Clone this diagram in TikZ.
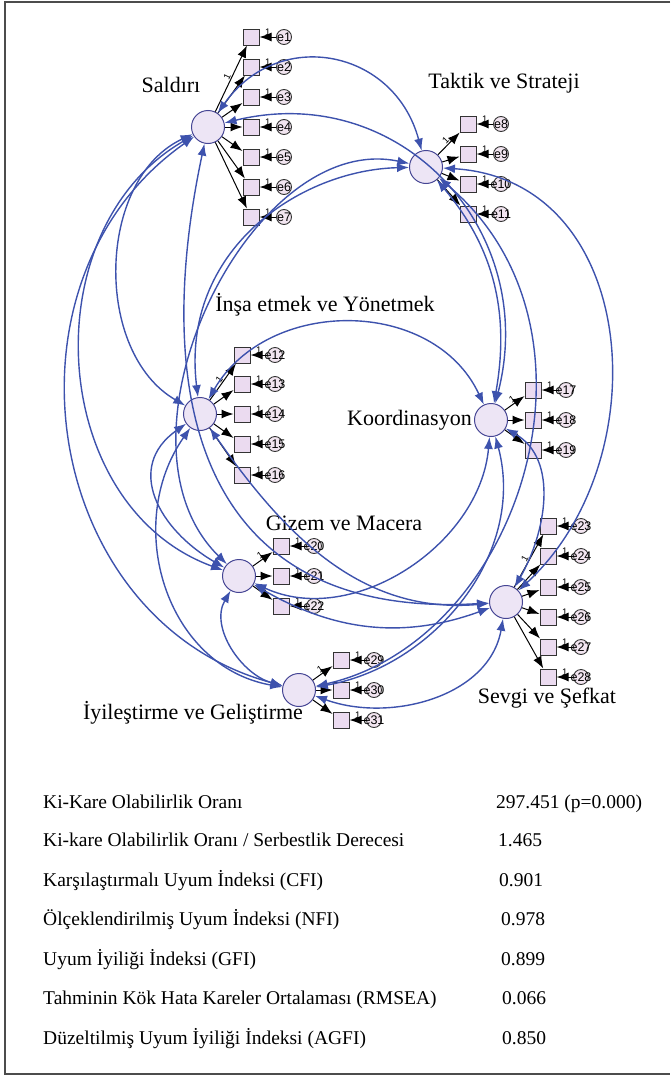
\documentclass[tikz,border=0pt]{standalone}
\usepackage{fontspec}
\setmainfont{Liberation Serif}
\newfontfamily\amosfont{Liberation Sans}
\usetikzlibrary{arrows.meta, positioning}
\definecolor{covblue}{rgb}{0.24,0.32,0.68}
\definecolor{latfill}{rgb}{0.93,0.90,0.96}
\definecolor{latline}{rgb}{0.27,0.27,0.58}
\definecolor{obsfill}{rgb}{0.92,0.86,0.94}
\definecolor{errfill}{rgb}{0.95,0.90,0.94}

\begin{document}
\begin{tikzpicture}[x=1pt,y=1pt,>={Latex[length=12pt,width=9pt]},
  latent/.style={circle, draw=latline, line width=1pt, fill=latfill, minimum size=33pt, inner sep=0pt},
  obsv/.style={rectangle, draw=black!80, line width=1pt, fill=obsfill, minimum size=16pt, inner sep=0pt},
  err/.style={circle, draw=black!80, line width=0.9pt, fill=errfill, minimum size=15pt, inner sep=0pt},
  etext/.style={font=\amosfont\fontsize{12.5}{12.5}\selectfont, inner sep=0pt},
  one/.style={font=\amosfont\fontsize{9.5}{9.5}\selectfont, inner sep=1pt},
  load/.style={->, black, line width=1pt},
  cov/.style={<->, covblue, line width=1.4pt},
  factor/.style={font=\fontsize{22}{24}\selectfont, inner sep=1pt},
  fitrow/.style={font=\fontsize{19.5}{22}\selectfont, anchor=base west, inner sep=0pt}]
  \useasboundingbox (0,0) rectangle (670,-1076);

  % frame
  \draw[line width=1.4pt, black!70] (670,-2) -- (5,-2) -- (5,-1074) -- (670,-1074);

  % latent factors
  \node[latent] (S) at (208,-127) {};
  \node[latent] (T) at (426,-167) {};
  \node[latent] (I) at (200,-414) {};
  \node[latent] (K) at (491,-420) {};
  \node[latent] (G) at (239,-576) {};
  \node[latent] (V) at (506,-602) {};
  \node[latent] (Y) at (299,-690) {};

  \node[factor] (lS) at (171,-85)  {Saldırı};
  \node[factor] (lT) at (504,-83)  {Taktik ve Strateji};
  \node[factor] (lI) at (325,-305) {İnşa etmek ve Yönetmek};
  \node[factor, left=1pt of K] (lK) {Koordinasyon};
  \node[factor] (lG) at (344,-523) {Gizem ve Macera};
  \node[factor] (lV) at (547,-698) {Sevgi ve Şefkat};
  \node[factor] (lY) at (193,-713) {İyileştirme ve Geliştirme};

  % indicators and errors
  \foreach \k/\f/\xx/\yy in {1/S/251/37, 2/S/251/67, 3/S/251/97, 4/S/251/127,
      5/S/251/157, 6/S/251/187, 7/S/251/217,
      8/T/468/124, 9/T/468/154, 10/T/468/184, 11/T/468/214,
      12/I/242/355, 13/I/242/384, 14/I/242/414, 15/I/242/444, 16/I/242/475,
      17/K/533/390, 18/K/533/420, 19/K/533/450,
      20/G/281/546, 21/G/281/576, 22/G/281/606,
      23/V/548/526, 24/V/548/556, 25/V/548/587, 26/V/548/617, 27/V/548/647, 28/V/548/677,
      29/Y/341/660, 30/Y/341/690, 31/Y/341/720}{
    \node[obsv] (x\k) at (\xx,-\yy) {};
    \node[err, label={[etext]center:e\k}] (e\k) at (\xx+33,-\yy) {};
    \draw[->, line width=1pt] (e\k) -- node[one, above]{1} (x\k);
    \draw[load] (\f) -- (x\k);
  }
  \path (S) -- node[one, sloped, above]{1} (x1);
  \path (T) -- node[one, sloped, above]{1} (x8);
  \path (I) -- node[one, sloped, above]{1} (x12);
  \path (K) -- node[one, sloped, above]{1} (x17);
  \path (G) -- node[one, sloped, above]{1} (x20);
  \path (V) -- node[one, sloped, above]{1} (x23);
  \path (Y) -- node[one, sloped, above]{1} (x29);

  % covariances
  \draw[cov] (S) to[out=55,in=105,looseness=1.3] (T);
  \draw[cov] (S) .. controls (400,-80) and (540,-230) .. (K);
  \draw[cov] (S) .. controls (150,-400) and (200,-620) .. (V);
  \draw[cov] (S) to[out=205,in=150] (I);
  \draw[cov] (S) to[out=210,in=160,looseness=1.1] (G);
  \draw[cov] (S) to[out=215,in=165,looseness=1.15] (Y);
  \draw[cov] (T) .. controls (300,-170) and (180,-250) .. (I);
  \draw[cov] (T) .. controls (250,-130) and (100,-440) .. (G);
  \draw[cov] (T) to[out=-50,in=80] (K);
  \draw[cov] (T) .. controls (640,-180) and (660,-460) .. (V);
  \draw[cov] (T) .. controls (620,-330) and (520,-640) .. (Y);
  \draw[cov] (I) to[out=60,in=115,looseness=1.1] (K);
  \draw[cov] (I) to[out=215,in=150,looseness=1.3] (G);
  \draw[cov] (I) to[out=-55,in=185] (V);
  \draw[cov] (I) to[out=235,in=170,looseness=1.1] (Y);
  \draw[cov] (K) to[out=-95,in=-25] (G);
  \draw[cov] (K) to[out=-75,in=10] (Y);
  \draw[cov] (K) to[out=-30,in=60] (V);
  \draw[cov] (G) to[out=-30,in=200] (V);
  \draw[cov] (G) to[out=240,in=165] (Y);
  \draw[cov] (V) to[out=-100,in=-20] (Y);

  % fit indices
  \node[fitrow] (r1) at (43,-808)  {Ki-Kare Olabilirlik Oranı};
  \node[fitrow] (r2) at (43,-846)  {Ki-kare Olabilirlik Oranı / Serbestlik Derecesi};
  \node[fitrow] (r3) at (43,-886)  {Karşılaştırmalı Uyum İndeksi (CFI)};
  \node[fitrow] (r4) at (43,-925)  {Ölçeklendirilmiş Uyum İndeksi (NFI)};
  \node[fitrow] (r5) at (43,-965)  {Uyum İyiliği İndeksi (GFI)};
  \node[fitrow] (r6) at (43,-1004) {Tahminin Kök Hata Kareler Ortalaması (RMSEA)};
  \node[fitrow] (r7) at (43,-1044) {Düzeltilmiş Uyum İyiliği İndeksi (AGFI)};
  \node[fitrow] (v1) at (496,-808)  {297.451 (p=0.000)};
  \node[fitrow] (v2) at (498,-846)  {1.465};
  \node[fitrow] (v3) at (499,-886)  {0.901};
  \node[fitrow] (v4) at (501,-925)  {0.978};
  \node[fitrow] (v5) at (501,-965)  {0.899};
  \node[fitrow] (v6) at (502,-1004) {0.066};
  \node[fitrow] (v7) at (502,-1044) {0.850};
\end{tikzpicture}
\end{document}
